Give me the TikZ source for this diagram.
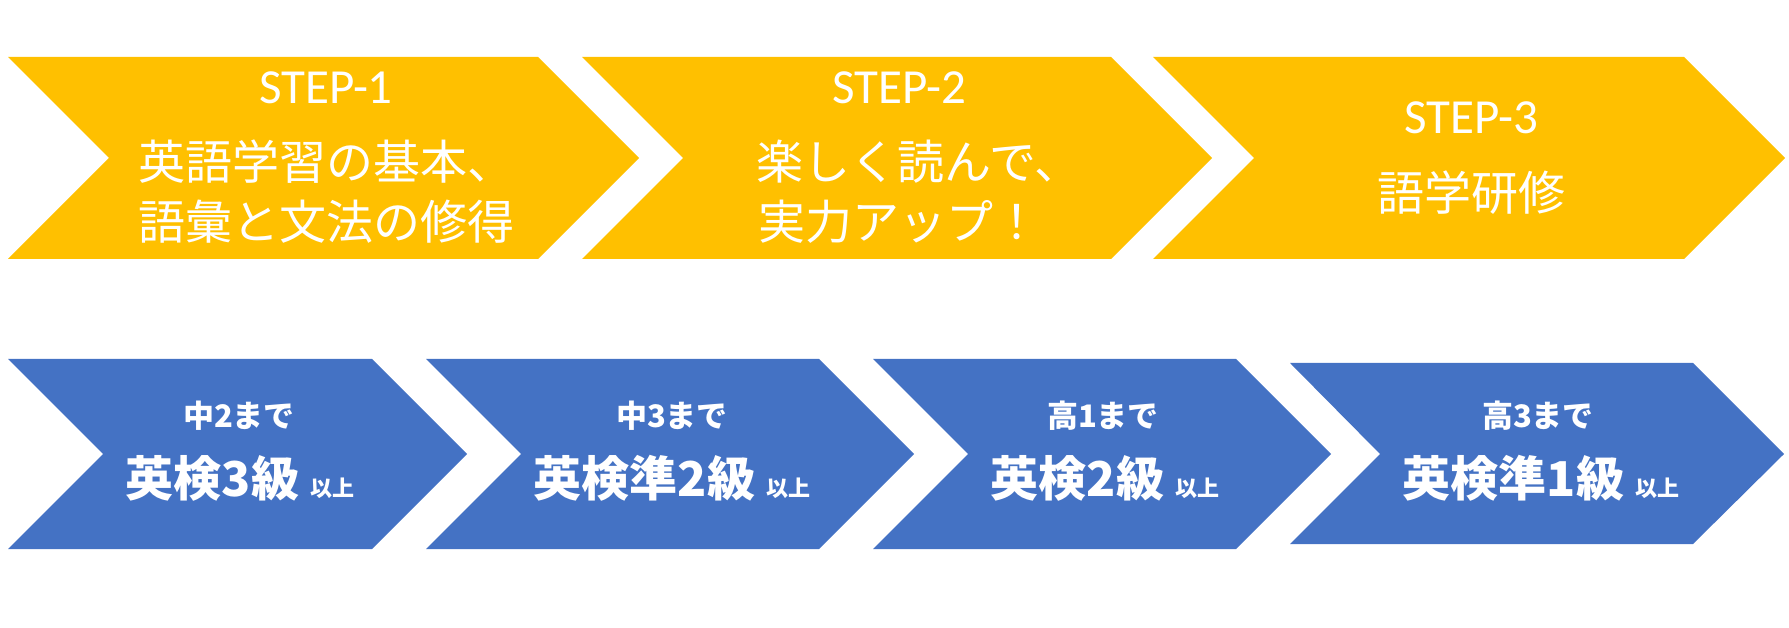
\documentclass[tikz,border=0pt]{standalone}
\usepackage{fontspec}
\setmainfont{Noto Sans CJK JP}
\newfontfamily\stepfont{Carlito}
\definecolor{jaune}{HTML}{FFC000}
\definecolor{bleu}{HTML}{4472C4}

\begin{document}
\begin{tikzpicture}[x=1pt,y=-1pt]
\tikzset{etape/.style={fill=jaune}, niveau/.style={fill=bleu},
  titre/.style={text=white, inner sep=0pt, font=\stepfont\fontsize{49}{56}\selectfont},
  corps/.style={text=white, inner sep=0pt, align=center, font=\fontsize{47}{60}\selectfont},
  petit/.style={text=white, inner sep=0pt, font=\bfseries\fontsize{31}{36}\selectfont},
  grand/.style={text=white, inner sep=0pt, font=\bfseries\fontsize{48}{56}\selectfont}}
\useasboundingbox (0,0) rectangle (1789,628);
% steps
\fill[etape] (8,57) -- (538,57) -- (639,158) -- (538,259) -- (8,259) -- (109,158) -- cycle;
\fill[etape] (582,57) -- (1111,57) -- (1212,158) -- (1111,259) -- (582,259) -- (683,158) -- cycle;
\fill[etape] (1153,57) -- (1684,57) -- (1785,158) -- (1684,259) -- (1153,259) -- (1254,158) -- cycle;
\node[titre] (E1) at (326,88) {STEP-1};
\node[corps] (C1) at (326,192) {英語学習の基本、\\語彙と文法の修得};
\node[titre] (E2) at (899,88) {STEP-2};
\node[corps] (C2) at (899,192) {\hspace*{40pt}楽しく読んで、\\実力アップ！};
\node[titre] (E3) at (1471,118) {STEP-3};
\node[corps] (C3) at (1471,193) {語学研修};
% levels
\fill[niveau] (8,359) -- (372,359) -- (467,454) -- (372,549) -- (8,549) -- (103,454) -- cycle;
\fill[niveau] (426,359) -- (819,359) -- (914,454) -- (819,549) -- (426,549) -- (521,454) -- cycle;
\fill[niveau] (873,359) -- (1236,359) -- (1331,454) -- (1236,549) -- (873,549) -- (968,454) -- cycle;
\fill[niveau] (1290,363) -- (1693,363) -- (1784,454) -- (1693,544) -- (1290,544) -- (1380,454) -- cycle;
\node[petit] (A1) at (239,416) {中2まで};
\node[grand] (K1) at (240,478) {英検3級 {\fontsize{22}{26}\selectfont 以上}};
\node[petit] (A2) at (672,416) {中3まで};
\node[grand] (K2) at (672,478) {英検準2級 {\fontsize{22}{26}\selectfont 以上}};
\node[petit] (A3) at (1103,416) {高1まで};
\node[grand] (K3) at (1105,478) {英検2級 {\fontsize{22}{26}\selectfont 以上}};
\node[petit] (A4) at (1538,416) {高3まで};
\node[grand] (K4) at (1541,478) {英検準1級 {\fontsize{22}{26}\selectfont 以上}};
\end{tikzpicture}
\end{document}
